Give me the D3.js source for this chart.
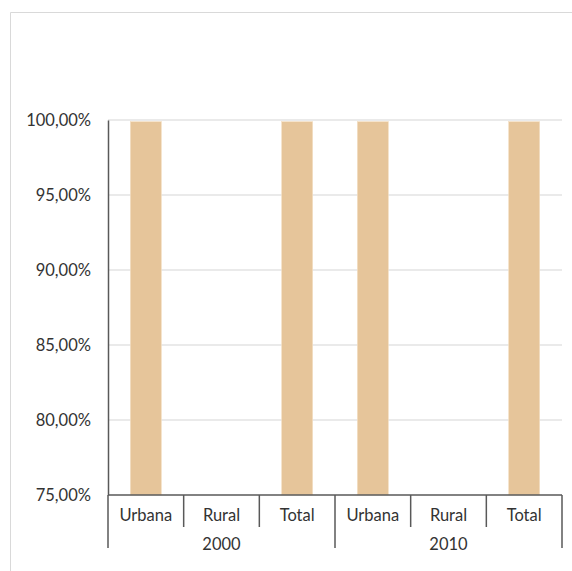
<!DOCTYPE html>
<html><head><meta charset="utf-8">
<script src="https://cdn.jsdelivr.net/npm/d3@7"></script>
<style>body{margin:0;background:#fff}</style>
</head><body>
<svg id="c" width="572" height="571"></svg>
<script>
const years = ["2000", "2010"];
const categories = ["Urbana", "Rural", "Total"];
const values2000 = [0.9989, null, 0.9989];
const values2010 = [0.9989, null, 0.9989];
const yTicks = [0.75, 0.80, 0.85, 0.90, 0.95, 1.00];

const data = [];
years.forEach((y, i) => {
  const vals = i === 0 ? values2000 : values2010;
  categories.forEach((c, j) => data.push({year: y, cat: c, key: y + "|" + c, v: vals[j]}));
});

const svg = d3.select("#c");
const font = "Lato, 'Open Sans', sans-serif";
const fs = 16.5;
const tc = "#333333";
// frame
svg.append("path").attr("d", "M10.5,571 V12.5 H572").attr("fill", "none").attr("stroke", "#d9d9d9").attr("stroke-width", 1);

const L = 108, R = 562, T = 120, B = 495;
const x = d3.scaleBand().domain(data.map(d => d.key)).range([L, R]).paddingInner(0.59).paddingOuter(0.295);
const xb = d3.scaleBand().domain(data.map(d => d.key)).range([L, R]);
const y = d3.scaleLinear().domain([0.75, 1.0]).range([B, T]);

const fmt = v => d3.format(".2f")(v * 100).replace(".", ",") + "%";

// grid
svg.append("g").selectAll("line").data(yTicks.slice(1)).join("line")
  .attr("x1", L).attr("x2", R).attr("y1", d => y(d)).attr("y2", d => y(d))
  .attr("stroke", "#e3e3e3").attr("stroke-width", 1.3);

// bars
svg.append("g").selectAll("rect").data(data.filter(d => d.v != null)).join("rect")
  .attr("x", d => x(d.key)).attr("width", x.bandwidth())
  .attr("y", d => y(d.v)).attr("height", d => B - y(d.v))
  .attr("fill", "#e6c59a").attr("stroke", "#f3dfc4").attr("stroke-width", 0.6);

// y axis
const yAxis = svg.append("g").attr("transform", `translate(${L},0)`)
  .call(d3.axisLeft(y).tickValues(yTicks).tickFormat(fmt).tickSize(0).tickPadding(17));
yAxis.select(".domain").attr("stroke", "#595959").attr("stroke-width", 1.5);
yAxis.selectAll("text").attr("font-family", font).attr("font-size", fs).attr("fill", tc);

// x axis line
svg.append("line").attr("x1", L).attr("x2", R).attr("y1", B).attr("y2", B)
  .attr("stroke", "#595959").attr("stroke-width", 1.5);

// category separators
const bounds = data.map(d => xb(d.key)).concat([R]);
svg.append("g").selectAll("line").data(bounds).join("line")
  .attr("x1", d => d).attr("x2", d => d).attr("y1", B)
  .attr("y2", (d, i) => (i % 3 === 0) ? 548 : 527)
  .attr("stroke", "#595959").attr("stroke-width", 1.5);

// category labels
svg.append("g").selectAll("text").data(data).join("text")
  .attr("x", d => xb(d.key) + xb.bandwidth() / 2).attr("y", 515)
  .attr("dy", "0.35em").attr("text-anchor", "middle")
  .attr("font-family", font).attr("font-size", fs).attr("fill", tc)
  .text(d => d.cat);

// year labels
svg.append("g").selectAll("text").data(years).join("text")
  .attr("x", (d) => { const ks = data.filter(e => e.year === d).map(e => xb(e.key)); return (d3.min(ks) + d3.max(ks) + xb.bandwidth()) / 2; })
  .attr("y", 544).attr("dy", "0.35em").attr("text-anchor", "middle")
  .attr("font-family", font).attr("font-size", fs).attr("fill", tc)
  .text(d => d);
</script>
</body></html>
